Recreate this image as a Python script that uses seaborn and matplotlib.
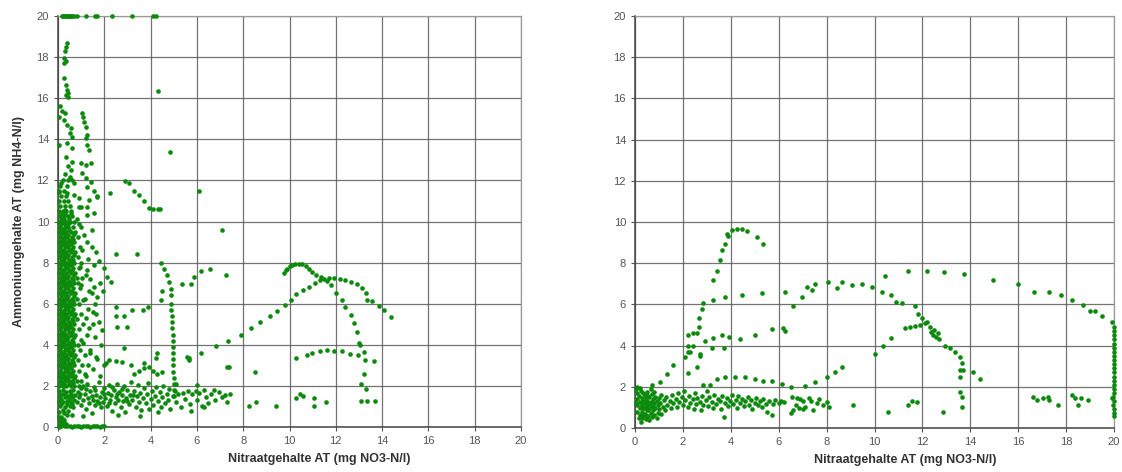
import matplotlib
matplotlib.use("Agg")
import matplotlib.pyplot as plt
import seaborn as sns
import pandas as pd

# ---------------- data (mg/l) ----------------
x_label = "Nitraatgehalte AT (mg NO3-N/l)"
y_label = "Ammoniumgehalte AT (mg NH4-N/l)"
tick_values = [0, 2, 4, 6, 8, 10, 12, 14, 16, 18, 20]

# LEFT panel ---------------------------------------------------------
left_top_row = [(0.17, 20), (0.22, 20), (0.27, 20), (0.32, 20), (0.37, 20), (0.42, 20),
                (0.47, 20), (0.52, 20), (0.57, 20), (0.62, 20), (0.7, 20), (0.8, 20),
                (1.2, 20), (1.6, 20), (1.7, 20), (2.35, 20), (3.2, 20), (4.1, 20), (4.25, 20)]

left_upper_column = [(0.4, 18.7), (0.35, 18.5), (0.3, 18.3), (0.26, 17.95), (0.35, 17.8),
                     (0.28, 17.7), (0.26, 17.0), (0.35, 16.65), (0.4, 16.4), (0.45, 16.25),
                     (0.35, 16.15), (0.45, 16.05), (0.1, 15.6), (0.17, 15.4), (0.3, 15.3),
                     (0.05, 15.1), (0.26, 14.95), (0.4, 14.7), (0.55, 14.55), (0.5, 14.3),
                     (0.6, 14.1), (0.05, 13.7), (0.4, 13.8), (0.6, 13.6), (0.35, 13.15),
                     (0.6, 12.9), (0.55, 12.5), (0.5, 12.15), (0.6, 12.0), (0.7, 11.85),
                     (0.13, 11.85), (0.05, 11.45), (0.4, 11.4), (0.7, 11.3), (0.9, 11.15),
                     (0.3, 10.55), (0.55, 10.4), (0.9, 10.7), (0.45, 12.7), (0.3, 12.3),
                     (1.04, 15.3), (1.08, 15.1), (1.12, 14.85), (1.2, 14.6), (1.25, 14.2),
                     (1.2, 14.05), (1.25, 13.7), (1.34, 13.5), (1.0, 12.85), (1.2, 12.75),
                     (1.43, 12.85), (1.04, 12.35), (1.2, 12.1), (1.43, 11.9), (1.27, 11.7),
                     (1.55, 11.5), (1.7, 11.25), (1.34, 11.05), (1.27, 10.7), (1.55, 10.4)]

left_core = [
    (0.05, 2.0), (0.2, 2.0), (0.35, 2.0), (0.55, 2.0), (0.7, 2.0), (0.9, 2.0), (1.1, 2.0),
    (0.1, 2.25), (0.25, 2.25), (0.45, 2.25), (0.6, 2.25), (0.8, 2.25), (1.0, 2.25),
    (0.05, 2.5), (0.2, 2.5), (0.4, 2.5), (0.55, 2.5), (0.75, 2.5), (1.2, 2.5),
    (0.1, 2.75), (0.3, 2.75), (0.45, 2.75), (0.65, 2.75), (0.9, 2.75),
    (0.05, 3.0), (0.2, 3.0), (0.35, 3.0), (0.5, 3.0), (0.7, 3.0), (1.05, 3.0), (1.3, 3.0),
    (0.1, 3.25), (0.25, 3.25), (0.4, 3.25), (0.6, 3.25), (0.85, 3.25),
    (0.05, 3.5), (0.2, 3.5), (0.35, 3.5), (0.55, 3.5), (0.75, 3.5), (1.15, 3.5),
    (0.1, 3.75), (0.3, 3.75), (0.45, 3.75), (0.65, 3.75), (0.95, 3.75), (1.4, 3.75),
    (0.05, 4.0), (0.2, 4.0), (0.35, 4.0), (0.5, 4.0), (0.7, 4.0), (0.85, 4.0),
    (0.1, 4.25), (0.25, 4.25), (0.4, 4.25), (0.6, 4.25), (1.0, 4.25),
    (0.05, 4.5), (0.2, 4.5), (0.35, 4.5), (0.55, 4.5), (0.75, 4.5), (1.25, 4.5),
    (0.1, 4.75), (0.3, 4.75), (0.45, 4.75), (0.65, 4.75), (0.9, 4.75),
    (0.05, 5.0), (0.2, 5.0), (0.35, 5.0), (0.5, 5.0), (0.7, 5.0), (1.1, 5.0), (1.5, 5.0),
    (0.1, 5.25), (0.25, 5.25), (0.4, 5.25), (0.6, 5.25), (0.8, 5.25),
    (0.05, 5.5), (0.2, 5.5), (0.35, 5.5), (0.55, 5.5), (0.75, 5.5), (1.0, 5.5),
    (0.1, 5.75), (0.3, 5.75), (0.45, 5.75), (0.65, 5.75), (1.3, 5.75),
    (0.05, 6.0), (0.2, 6.0), (0.35, 6.0), (0.5, 6.0), (0.7, 6.0), (0.9, 6.0),
    (0.1, 6.25), (0.25, 6.25), (0.4, 6.25), (0.6, 6.25), (0.8, 6.25), (1.15, 6.25),
    (0.05, 6.5), (0.2, 6.5), (0.35, 6.5), (0.55, 6.5), (0.75, 6.5), (1.45, 6.5),
    (0.1, 6.75), (0.3, 6.75), (0.45, 6.75), (0.65, 6.75), (0.95, 6.75),
    (0.05, 7.0), (0.2, 7.0), (0.35, 7.0), (0.5, 7.0), (0.7, 7.0), (0.85, 7.0),
    (0.1, 7.25), (0.25, 7.25), (0.4, 7.25), (0.6, 7.25), (0.8, 7.25), (1.05, 7.25),
    (0.05, 7.5), (0.2, 7.5), (0.35, 7.5), (0.55, 7.5), (0.75, 7.5),
    (0.1, 7.75), (0.3, 7.75), (0.45, 7.75), (0.65, 7.75), (0.9, 7.75),
    (0.05, 8.0), (0.2, 8.0), (0.35, 8.0), (0.5, 8.0), (0.7, 8.0), (1.0, 8.0),
    (0.1, 8.25), (0.25, 8.25), (0.4, 8.25), (0.6, 8.25), (0.85, 8.25),
    (0.05, 8.5), (0.2, 8.5), (0.35, 8.5), (0.55, 8.5), (0.75, 8.5),
    (0.1, 8.75), (0.3, 8.75), (0.45, 8.75), (0.65, 8.75), (0.95, 8.75),
    (0.05, 9.0), (0.2, 9.0), (0.35, 9.0), (0.5, 9.0), (0.7, 9.0),
    (0.1, 9.25), (0.25, 9.25), (0.4, 9.25), (0.6, 9.25), (0.85, 9.25),
    (0.05, 9.5), (0.2, 9.5), (0.35, 9.5), (0.55, 9.5), (0.75, 9.5),
    (0.1, 9.75), (0.3, 9.75), (0.45, 9.75), (0.65, 9.75),
    (0.05, 10.0), (0.2, 10.0), (0.35, 10.0), (0.5, 10.0), (0.7, 10.0),
    (0.1, 10.25), (0.25, 10.25), (0.45, 10.25), (0.6, 10.25),
    (0.05, 10.5), (0.2, 10.5), (0.35, 10.5), (0.55, 10.5),
    (0.1, 10.75), (0.3, 10.75), (0.5, 10.75),
    (0.05, 11.0), (0.25, 11.0), (0.45, 11.0),
    (0.15, 11.25), (0.35, 11.25), (0.05, 11.5), (0.25, 11.5),
    (0.1, 11.75), (0.4, 11.75), (0.2, 12.0), (0.45, 12.0),
    (0.05, 1.75), (0.2, 1.8), (0.35, 1.7), (0.5, 1.75), (0.65, 1.8),
    (0.1, 1.5), (0.3, 1.45), (0.45, 1.5), (0.6, 1.45), (0.75, 1.55),
    (0.05, 1.25), (0.2, 1.2), (0.4, 1.25), (0.55, 1.2), (0.7, 1.3),
    (0.1, 1.0), (0.3, 0.95), (0.5, 1.0), (0.65, 0.95),
    (0.05, 0.75), (0.25, 0.7), (0.45, 0.8), (0.6, 0.6), (0.15, 0.5)]

# extra points between the rows of the densest part of the left column
left_core_fill = [
    (0.12, 2.12), (0.28, 2.14), (0.48, 2.11), (0.64, 2.13),
    (0.15, 2.37), (0.32, 2.38), (0.42, 2.36), (0.68, 2.39),
    (0.12, 2.62), (0.28, 2.63), (0.48, 2.61), (0.62, 2.64),
    (0.15, 2.87), (0.32, 2.88), (0.42, 2.86), (0.58, 2.89),
    (0.12, 3.12), (0.28, 3.13), (0.48, 3.11), (0.64, 3.14),
    (0.15, 3.37), (0.32, 3.38), (0.42, 3.36), (0.68, 3.39),
    (0.12, 3.62), (0.28, 3.63), (0.48, 3.61), (0.62, 3.64),
    (0.15, 3.87), (0.32, 3.88), (0.42, 3.86), (0.58, 3.89),
    (0.12, 4.12), (0.28, 4.13), (0.48, 4.11), (0.64, 4.14),
    (0.15, 4.37), (0.32, 4.38), (0.42, 4.36), (0.68, 4.39),
    (0.12, 4.62), (0.28, 4.63), (0.48, 4.61), (0.62, 4.64),
    (0.15, 4.87), (0.32, 4.88), (0.42, 4.86), (0.58, 4.89),
    (0.12, 5.12), (0.28, 5.13), (0.48, 5.11), (0.64, 5.14),
    (0.15, 5.37), (0.32, 5.38), (0.42, 5.36), (0.68, 5.39),
    (0.12, 5.62), (0.28, 5.63), (0.48, 5.61), (0.62, 5.64),
    (0.15, 5.87), (0.32, 5.88), (0.42, 5.86), (0.58, 5.89),
    (0.12, 6.12), (0.28, 6.13), (0.48, 6.11), (0.64, 6.14),
    (0.15, 6.37), (0.32, 6.38), (0.42, 6.36), (0.68, 6.39),
    (0.12, 6.62), (0.28, 6.63), (0.48, 6.61), (0.62, 6.64),
    (0.15, 6.87), (0.32, 6.88), (0.42, 6.86), (0.58, 6.89),
    (0.12, 7.12), (0.28, 7.13), (0.48, 7.11), (0.64, 7.14),
    (0.15, 7.37), (0.32, 7.38), (0.42, 7.36), (0.68, 7.39),
    (0.12, 7.62), (0.28, 7.63), (0.48, 7.61), (0.62, 7.64),
    (0.15, 7.87), (0.32, 7.88), (0.42, 7.86), (0.58, 7.89),
    (0.12, 8.12), (0.28, 8.13), (0.48, 8.11), (0.64, 8.14),
    (0.15, 8.37), (0.32, 8.38), (0.42, 8.36), (0.68, 8.39),
    (0.12, 8.62), (0.28, 8.63), (0.48, 8.61), (0.62, 8.64),
    (0.15, 8.87), (0.32, 8.88), (0.42, 8.86), (0.58, 8.89),
    (0.12, 9.12), (0.28, 9.13), (0.48, 9.11), (0.64, 9.14),
    (0.15, 9.37), (0.32, 9.38), (0.42, 9.36), (0.68, 9.39),
    (0.12, 9.62), (0.28, 9.63), (0.48, 9.61),
    (0.15, 9.87), (0.32, 9.88), (0.42, 9.86),
    (0.12, 10.12), (0.28, 10.13), (0.48, 10.11),
    (0.15, 10.37), (0.32, 10.38),
    (0.12, 1.62), (0.28, 1.63), (0.55, 1.6), (0.15, 1.37), (0.48, 1.38),
    (0.12, 1.12), (0.38, 1.1), (0.6, 1.1), (0.2, 0.85), (0.4, 0.6)]

left_core_scatter = [(0.9, 9.9), (1.05, 8.6), (0.95, 7.8), (1.2, 7.4), (1.0, 6.9), (1.35, 6.6),
                     (1.1, 6.2), (1.6, 6.0), (1.5, 5.6), (1.2, 5.3), (1.75, 5.1), (1.35, 4.8),
                     (1.6, 4.4), (1.1, 4.1), (1.85, 4.0), (1.4, 3.6), (1.7, 3.3), (1.95, 6.6),
                     (1.8, 7.0), (1.65, 5.5), (1.9, 4.7), (1.45, 9.6), (1.3, 8.2), (1.55, 7.9),
                     (1.15, 2.6), (1.5, 2.8), (1.8, 2.5), (2.0, 3.0), (1.25, 10.3), (1.0, 10.7),
                     (0.8, 10.1), (1.0, 9.75), (1.12, 9.35), (1.27, 9.0), (1.47, 8.75),
                     (1.63, 8.5), (1.77, 8.1), (2.0, 7.75), (2.1, 7.3), (2.27, 7.05),
                     (1.25, 7.65), (1.4, 7.2), (1.55, 6.8), (1.7, 6.35)]

left_zero = [(0.05, 0.0), (0.1, 0.1), (0.15, 0.25), (0.2, 0.4), (0.25, 0.2), (0.3, 0.05),
             (0.1, 0.3), (0.2, 0.1), (0.35, 0.15), (0.15, 0.05), (0.4, 0.05), (0.5, 0.05),
             (0.6, 0.0), (0.7, 0.05), (0.8, 0.03), (0.9, 0.05), (1.0, 0.02), (1.1, 0.05),
             (1.2, 0.03), (1.3, 0.05), (1.4, 0.02), (1.5, 0.05), (1.6, 0.03), (1.7, 0.05),
             (1.8, 0.02), (1.9, 0.05), (2.0, 0.03), (0.25, 0.35), (0.05, 0.5)]

left_low_band = [(0.8, 1.2), (0.85, 1.7), (0.9, 1.45), (1.0, 1.05), (1.0, 1.9), (1.1, 1.3),
                 (1.15, 1.6), (1.2, 0.9), (1.25, 2.1), (1.3, 1.4), (1.35, 1.15), (1.4, 1.75),
                 (1.45, 0.7), (1.5, 1.3), (1.55, 1.95), (1.6, 1.05), (1.65, 1.55), (1.7, 1.25),
                 (1.75, 2.2), (1.8, 1.45), (1.85, 0.95), (1.9, 1.7), (1.95, 1.2), (2.0, 1.9),
                 (2.05, 1.4), (2.1, 1.0), (2.15, 1.65), (2.2, 2.05), (2.25, 1.3), (2.3, 1.55),
                 (2.35, 0.8), (2.4, 1.8), (2.45, 1.15), (2.5, 1.45), (2.55, 2.1), (2.6, 1.3),
                 (2.65, 1.7), (2.7, 0.95), (2.75, 1.55), (2.8, 1.25), (2.85, 2.0), (2.9, 0.75),
                 (2.95, 1.4), (3.0, 1.8), (3.05, 1.1), (3.1, 1.55), (3.15, 2.2), (3.2, 1.3),
                 (3.3, 1.75), (3.35, 0.95), (3.4, 1.5), (3.45, 2.05), (3.5, 1.2), (3.55, 1.65),
                 (3.6, 0.85), (3.65, 1.4), (3.7, 1.9), (3.8, 1.15), (3.85, 1.6), (3.9, 2.15),
                 (3.95, 0.9), (4.0, 1.35), (4.05, 1.75), (4.1, 1.05), (4.2, 1.5), (4.25, 1.95),
                 (4.3, 1.25), (4.4, 1.7), (4.45, 0.95), (4.5, 1.45), (4.55, 2.0), (4.6, 1.15),
                 (4.7, 1.6), (4.75, 1.3), (4.8, 1.85), (4.85, 0.9), (4.95, 1.5), (5.05, 1.75),
                 (5.1, 1.2), (5.2, 1.6), (5.3, 0.95), (5.4, 1.65), (5.5, 1.35), (5.6, 1.75),
                 (5.7, 1.1), (5.8, 1.6), (5.95, 1.75), (6.0, 1.3), (6.1, 1.65), (6.2, 1.0),
                 (6.3, 1.8), (6.4, 1.45), (6.5, 1.15), (6.6, 1.6), (6.75, 1.8), (6.8, 1.3),
                 (6.95, 1.7), (7.1, 1.45), (7.2, 1.55), (7.3, 1.2), (7.45, 1.6), (5.1, 2.1),
                 (6.0, 2.05), (3.55, 0.55), (2.6, 0.6), (6.3, 0.95), (4.3, 0.75), (1.1, 0.55),
                 (5.75, 0.8), (8.25, 1.0), (8.55, 1.2), (9.4, 1.0),
                 (0.95, 1.6), (1.2, 1.85), (1.45, 1.5), (1.6, 1.8), (1.75, 1.15), (2.0, 1.6),
                 (2.2, 1.15), (2.35, 1.95), (2.55, 1.6), (2.75, 1.85), (3.0, 1.25), (3.25, 1.55)]

left_mid_scatter = [(2.25, 11.4), (1.7, 11.2), (4.32, 16.35), (4.83, 13.4), (6.1, 11.5),
                    (7.1, 9.6), (2.5, 8.4), (3.4, 8.4), (2.5, 5.85), (2.85, 5.4), (2.5, 5.4),
                    (2.55, 4.85), (3.0, 4.85), (3.2, 5.7), (3.65, 5.7), (3.9, 5.85),
                    (2.85, 3.85), (1.64, 3.4), (2.07, 3.1), (2.2, 3.25), (2.5, 3.2),
                    (2.77, 3.15), (3.15, 3.0), (3.7, 3.1), (3.3, 2.6), (3.5, 2.75),
                    (3.72, 2.85), (3.93, 2.9), (4.1, 2.75), (4.28, 2.6), (4.5, 2.7),
                    (4.28, 3.6), (4.23, 3.35), (5.57, 3.4), (5.65, 3.25), (7.4, 2.9),
                    (8.5, 2.7), (7.3, 2.9)]

left_diag_upper = [(2.9, 11.95), (3.05, 11.85), (3.3, 11.5), (3.5, 11.3), (3.7, 11.0),
                   (3.95, 10.65), (4.1, 10.6), (4.3, 10.6), (4.4, 10.6)]

left_drop_line = [(4.45, 8.0), (4.58, 7.7), (4.7, 7.4), (4.8, 7.05), (4.88, 6.7), (4.9, 6.4),
                  (4.9, 6.0), (4.9, 5.7), (4.92, 5.4), (4.92, 5.1), (4.92, 4.8), (4.95, 4.5),
                  (4.95, 4.2), (4.95, 3.9), (4.95, 3.6), (4.97, 3.3), (4.97, 3.0),
                  (4.97, 2.7), (5.0, 2.4), (5.0, 2.1), (5.0, 1.8), (5.0, 1.5), (4.45, 6.2),
                  (4.5, 6.6), (5.36, 6.95), (5.75, 6.95), (5.88, 7.3), (6.18, 7.6),
                  (6.57, 7.7), (7.25, 7.4)]

left_long_arc = [(5.66, 3.35), (6.18, 3.6), (6.82, 3.94), (7.35, 4.2), (7.9, 4.5), (8.34, 4.8),
                 (8.73, 5.1), (9.16, 5.4), (9.46, 5.64), (9.8, 5.94), (10.06, 6.2),
                 (10.3, 6.47), (10.6, 6.67), (10.84, 6.8), (11.1, 7.0), (11.3, 7.15),
                 (11.5, 7.2), (11.7, 7.25), (11.9, 7.25), (12.2, 7.2), (12.4, 7.15),
                 (12.65, 7.05), (12.9, 6.95), (13.15, 6.75), (13.3, 6.5), (13.35, 6.2),
                 (13.55, 6.15), (13.85, 5.9), (14.1, 5.7), (14.4, 5.35)]

left_top_arc = [(9.77, 7.5), (9.85, 7.62), (9.9, 7.7), (10.0, 7.82), (10.1, 7.9), (10.25, 7.93),
                (10.4, 7.95), (10.55, 7.92), (10.7, 7.85), (10.85, 7.7), (10.97, 7.55),
                (11.15, 7.42), (11.35, 7.3), (11.6, 7.1), (11.8, 6.9), (12.0, 6.5),
                (12.27, 6.2), (12.4, 5.85), (12.65, 5.45), (12.8, 5.05), (12.9, 4.6),
                (13.0, 4.1), (13.05, 4.0), (13.2, 3.65), (13.25, 3.25), (13.2, 2.6),
                (13.1, 2.1), (13.3, 1.85)]

left_low_arc = [(10.3, 3.35), (10.77, 3.5), (10.99, 3.6), (11.3, 3.7), (11.6, 3.75),
                (11.9, 3.7), (12.25, 3.7), (12.6, 3.55), (12.95, 3.5), (13.65, 3.2),
                (10.28, 1.4), (10.45, 1.6), (10.6, 1.5), (11.06, 1.4), (11.06, 1.0),
                (11.56, 1.2), (13.1, 1.25), (13.35, 1.25), (13.7, 1.25)]

# RIGHT panel --------------------------------------------------------
right_core = [(0.05, 1.9), (0.1, 1.7), (0.1, 1.4), (0.1, 1.1), (0.1, 0.8), (0.15, 1.55),
              (0.2, 1.25), (0.2, 0.95), (0.2, 0.65), (0.25, 1.8), (0.3, 1.45), (0.3, 1.1),
              (0.3, 0.8), (0.3, 0.5), (0.35, 1.3), (0.35, 0.95), (0.4, 1.6), (0.4, 1.2),
              (0.4, 0.7), (0.45, 1.45), (0.45, 1.0), (0.45, 0.45), (0.5, 1.75), (0.5, 1.3),
              (0.5, 0.85), (0.55, 1.1), (0.55, 0.6), (0.6, 1.5), (0.6, 0.95), (0.6, 0.4),
              (0.65, 1.25), (0.65, 0.75), (0.7, 1.65), (0.7, 1.05), (0.7, 0.55), (0.75, 1.4),
              (0.75, 0.85), (0.8, 1.2), (0.8, 0.65), (0.85, 1.5), (0.85, 0.95), (0.9, 1.3),
              (0.9, 0.5), (0.95, 1.1), (0.95, 0.75), (1.0, 1.45), (1.0, 0.9), (1.05, 1.2),
              (1.1, 1.6), (1.1, 0.7), (1.15, 1.0), (1.2, 1.35), (1.25, 0.85), (0.15, 0.5),
              (0.25, 0.3), (0.05, 1.2), (0.35, 1.7), (0.55, 1.55), (0.65, 1.9), (0.8, 1.75),
              (0.4, 0.95), (0.5, 0.6), (0.2, 1.95), (0.1, 2.0), (0.25, 1.0), (0.45, 1.25),
              (0.6, 1.2), (0.75, 1.05), (0.35, 0.6), (0.55, 0.85)]

right_band = [(1.3, 1.5), (1.35, 1.1), (1.45, 1.3), (1.5, 0.95), (1.55, 1.6), (1.6, 1.2),
              (1.7, 1.4), (1.75, 1.0), (1.8, 1.7), (1.85, 1.25), (1.95, 1.5), (2.0, 1.1),
              (2.05, 1.8), (2.1, 1.35), (2.2, 1.0), (2.25, 1.55), (2.3, 1.2), (2.4, 1.4),
              (2.45, 0.9), (2.5, 1.7), (2.55, 1.15), (2.6, 1.45), (2.7, 1.25), (2.75, 0.85),
              (2.8, 1.55), (2.85, 1.1), (2.95, 1.35), (3.0, 1.8), (3.05, 1.05), (3.1, 1.5),
              (3.2, 1.25), (3.25, 0.95), (3.3, 1.6), (3.4, 1.15), (3.45, 1.4), (3.55, 1.3),
              (3.6, 0.9), (3.65, 1.55), (3.7, 0.55), (3.75, 1.2), (3.85, 1.45), (3.9, 1.05),
              (3.95, 1.3), (4.05, 1.6), (4.1, 1.15), (4.2, 1.35), (4.25, 0.95), (4.3, 1.55),
              (4.4, 1.2), (4.45, 1.4), (4.55, 1.05), (4.6, 1.3), (4.7, 1.5), (4.75, 1.1),
              (4.85, 1.35), (4.9, 0.9), (5.0, 1.2), (5.05, 1.45), (5.15, 1.1), (5.2, 1.3),
              (5.3, 1.0), (5.35, 1.4), (5.45, 1.15), (5.5, 0.8), (5.6, 1.3), (5.7, 0.65),
              (5.75, 1.15), (5.85, 1.35), (6.0, 1.2), (6.1, 1.3), (6.2, 1.25), (6.55, 1.5),
              (6.6, 0.85), (6.7, 1.1), (6.75, 1.45), (6.85, 0.95), (6.9, 1.4), (7.0, 1.3),
              (7.1, 1.0), (7.25, 1.45), (7.35, 1.3), (7.45, 0.85), (7.6, 1.2), (7.7, 1.4),
              (7.85, 1.1), (8.0, 1.25), (8.1, 1.0), (6.5, 0.75), (7.0, 0.9)]

right_steep_arc = [(0.7, 2.1), (1.04, 2.25), (1.33, 2.6), (1.6, 3.05), (2.07, 3.45), (2.2, 3.7),
                   (2.42, 4.0), (2.58, 4.6), (2.65, 4.9), (2.65, 5.35), (2.8, 5.8),
                   (2.85, 6.05), (3.27, 7.2), (3.42, 7.6), (3.55, 8.15), (3.63, 8.65),
                   (3.76, 8.95), (3.9, 9.3), (3.85, 9.4), (4.05, 9.6), (4.25, 9.65),
                   (4.45, 9.65), (4.67, 9.55), (5.1, 9.25), (5.35, 8.95),
                   (2.2, 4.5), (2.4, 4.6), (2.2, 4.0), (2.3, 3.7), (2.2, 2.65), (2.6, 2.95),
                   (2.7, 3.6)]

right_mid_arc = [(3.27, 6.2), (3.76, 6.37), (4.47, 6.45), (5.3, 6.55), (6.27, 6.6), (6.6, 5.9),
                 (6.97, 6.37), (7.18, 6.85), (7.4, 6.7), (7.5, 7.0), (8.06, 7.1), (8.43, 6.8),
                 (8.65, 7.1), (9.06, 6.95), (9.48, 7.0), (9.9, 6.85), (10.3, 6.6),
                 (10.7, 6.45), (10.9, 6.1), (11.15, 6.05), (11.7, 5.9), (11.8, 5.55),
                 (11.97, 5.35), (12.2, 5.15), (12.3, 4.9), (12.5, 4.75), (12.65, 4.6),
                 (12.7, 4.3), (12.95, 4.0), (13.15, 3.9), (13.35, 3.7), (13.57, 3.45),
                 (13.65, 3.15), (13.57, 2.8), (13.7, 2.8), (13.57, 2.5), (14.1, 2.7),
                 (14.4, 2.4), (13.57, 1.75), (13.65, 1.5), (13.65, 1.0), (12.45, 4.5),
                 (12.55, 4.4), (12.35, 4.65)]

right_low_arc = [(2.92, 4.2), (3.27, 4.35), (3.63, 4.5), (3.92, 4.4), (4.38, 4.3), (5.0, 4.5),
                 (5.7, 4.8), (6.18, 4.85), (6.25, 4.7), (2.7, 3.5), (3.2, 3.9), (3.7, 3.9),
                 (7.5, 2.25), (8.0, 2.5), (8.35, 2.7), (8.65, 2.95), (10.0, 3.6),
                 (10.35, 4.0), (10.7, 4.35), (11.27, 4.85), (11.5, 4.9), (11.7, 4.95),
                 (11.9, 5.0), (12.1, 5.1)]

right_flat_arc = [(2.85, 2.1), (3.13, 2.1), (3.42, 2.4), (3.76, 2.5), (4.17, 2.5), (4.6, 2.5),
                  (5.0, 2.4), (5.35, 2.3), (5.7, 2.3), (6.15, 2.15), (6.5, 2.0), (7.1, 2.05)]

right_top_arc = [(10.45, 7.4), (11.4, 7.6), (12.2, 7.6), (12.9, 7.55), (13.75, 7.5),
                 (14.95, 7.2), (16.0, 7.0), (16.65, 6.6), (17.3, 6.6), (17.8, 6.45),
                 (18.25, 6.2), (18.7, 5.95), (19.0, 5.7), (19.2, 5.7), (19.5, 5.45),
                 (19.9, 5.15)]

right_edge = [(20, 4.9), (20, 4.7), (20, 4.5), (20, 4.3), (20, 4.1), (20, 3.9), (20, 3.7),
              (20, 3.5), (20, 3.3), (20, 3.1), (20, 2.9), (20, 2.7), (20, 2.5), (20, 2.3),
              (20, 2.1), (20, 1.9), (20, 1.7), (19.95, 1.5), (20, 1.3), (19.95, 1.1),
              (20, 0.9), (20, 0.75), (20, 0.6)]

right_low_scatter = [(9.1, 1.1), (10.55, 0.8), (11.4, 1.1), (11.55, 1.3), (11.77, 1.25),
                     (12.85, 0.8), (16.6, 1.5), (16.8, 1.35), (17.05, 1.45), (17.25, 1.5),
                     (17.3, 1.35), (17.65, 1.1), (18.25, 1.6), (18.35, 1.45), (18.5, 1.1),
                     (18.6, 1.45), (18.9, 1.35), (19.9, 1.45)]

# ---------------- assemble ----------------
left_groups = [left_top_row, left_upper_column, left_core, left_core_fill, left_core_scatter,
               left_zero, left_low_band, left_mid_scatter, left_diag_upper, left_drop_line,
               left_long_arc, left_top_arc, left_low_arc]
right_groups = [right_core, right_band, right_steep_arc, right_mid_arc, right_low_arc,
                right_flat_arc, right_top_arc, right_edge, right_low_scatter]


def to_frame(groups):
    pts = [p for g in groups for p in g]
    return pd.DataFrame(pts, columns=["no3", "nh4"])


left_df = to_frame(left_groups)
right_df = to_frame(right_groups)

sns.set_style("white")
plt.rcParams["font.family"] = ["Liberation Sans", "DejaVu Sans"]

fig = plt.figure(figsize=(11.22, 4.72), dpi=100)
ax_l = fig.add_axes([0.0517, 0.0953, 0.4127, 0.8708])
ax_r = fig.add_axes([0.5660, 0.0932, 0.4269, 0.8729])

dot_color = "#0b8a0b"
for ax, df, show_ylabel in [(ax_l, left_df, True), (ax_r, right_df, False)]:
    sns.scatterplot(data=df, x="no3", y="nh4", ax=ax, color=dot_color, s=11,
                    linewidth=0, marker="o", clip_on=False, zorder=3)
    ax.set_xlim(0, 20)
    ax.set_ylim(0, 20)
    ax.set_xticks(tick_values)
    ax.set_yticks(tick_values)
    ax.grid(True, color="#5a5a5a", linewidth=0.9, alpha=0.85)
    ax.set_axisbelow(True)
    for side in ["top", "right"]:
        ax.spines[side].set_color("#9a9a9a")
        ax.spines[side].set_linewidth(0.9)
    for side in ["left", "bottom"]:
        ax.spines[side].set_color("#444444")
        ax.spines[side].set_linewidth(1.1)
    ax.tick_params(axis="both", labelsize=8, colors="#555555", length=3, width=0.8,
                   direction="out", left=True, bottom=True)
    ax.set_xlabel(x_label, fontsize=9, fontweight="bold", color="#333333")
    ax.xaxis.set_label_coords(0.565, -0.064)
    if show_ylabel:
        ax.set_ylabel(y_label, fontsize=9, fontweight="bold", color="#333333", labelpad=8)
    else:
        ax.set_ylabel("")

fig.savefig("out.png", dpi=100, facecolor="white")
